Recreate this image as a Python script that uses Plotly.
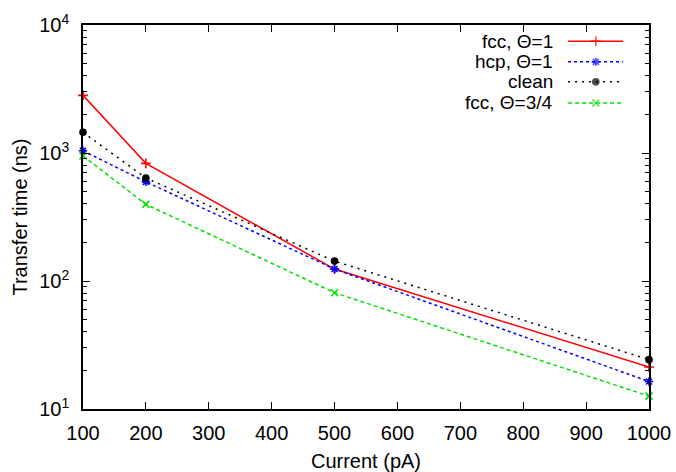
import plotly.graph_objects as go

# Current in pA
current = [100, 200, 500, 1000]

# Transfer times in ns
fcc_full = [2820, 830, 124, 21.3]
hcp_full = [1040, 595, 124, 16.4]
clean = [1450, 638, 143, 24.3]
fcc_three_quarter = [950, 397, 81, 12.6]

series_names = ["fcc, Θ=1", "hcp, Θ=1", "clean", "fcc, Θ=3/4"]
series_values = [fcc_full, hcp_full, clean, fcc_three_quarter]

y_tick_vals = [10, 100, 1000, 10000]
y_tick_text = ["10<sup>1</sup>", "10<sup>2</sup>", "10<sup>3</sup>", "10<sup>4</sup>"]

styles = [
    dict(color="#ff0000", dash="solid", width=1.5, symbol="cross-thin-open", size=7),
    dict(color="#0000ff", dash="dot", width=1.5, symbol="asterisk-open", size=7),
    dict(color="#000000", dash="2px,5px", width=1.5, symbol="circle", size=6),
    dict(color="#00e000", dash="4px,3px", width=1.5, symbol="x-thin-open", size=7),
]

FONT = "Liberation Sans, Arial, sans-serif"
FSIZE = 20

fig = go.Figure()

for name, vals, st in zip(series_names, series_values, styles):
    fig.add_trace(go.Scatter(
        x=current, y=vals, name=name, mode="lines+markers",
        line=dict(color=st["color"], dash=st["dash"], width=st["width"]),
        marker=dict(symbol=st["symbol"], size=st["size"], color=st["color"],
                    line=dict(color=st["color"], width=1.6)),
        showlegend=False, cliponaxis=False,
    ))

# Key: label text on the left, line sample with marker on the right
key_rows = [0.958, 0.904, 0.852, 0.797]
for name, st, ky in zip(series_names, styles, key_rows):
    fig.add_trace(go.Scatter(
        x=[0.857, 0.906, 0.954], y=[ky, ky, ky], xaxis="x2", yaxis="y2",
        mode="lines+markers",
        line=dict(color=st["color"], dash=st["dash"], width=st["width"]),
        marker=dict(symbol=st["symbol"], size=[0, st["size"], 0], color=st["color"],
                    line=dict(color=st["color"], width=1.6)),
        showlegend=False, hoverinfo="skip",
    ))
    fig.add_annotation(
        x=0.832, y=ky, xref="x2", yref="y2", text=name, showarrow=False,
        xanchor="right", yanchor="middle", height=19, valign="middle", borderpad=0,
        font=dict(family=FONT, size=19, color="#000000"),
    )

fig.update_layout(
    width=676, height=472,
    margin=dict(l=83, r=27, t=25, b=63),
    paper_bgcolor="white", plot_bgcolor="white",
    font=dict(family=FONT, size=FSIZE, color="#000000"),
    xaxis=dict(
        range=[100, 1000], dtick=100, tick0=100, automargin=False,
        ticks="inside", ticklen=7, tickwidth=1, tickcolor="#000000",
        showline=True, linecolor="#000000", linewidth=1.5, mirror="ticks",
        showgrid=False, zeroline=False, ticklabelstandoff=5,
        title=dict(text="Current (pA)", font=dict(size=FSIZE), standoff=12),
    ),
    yaxis=dict(
        type="log", range=[1, 4], automargin=False,
        tickvals=y_tick_vals, ticktext=y_tick_text,
        ticks="inside", ticklen=7, tickwidth=1, tickcolor="#000000",
        minor=dict(ticks="inside", ticklen=4, tickcolor="#000000", dtick="D1", showgrid=False),
        showline=True, linecolor="#000000", linewidth=1.5, mirror="ticks",
        showgrid=False, zeroline=False, ticklabelstandoff=8,
        title=dict(text="Transfer time (ns)", font=dict(size=FSIZE), standoff=6),
    ),
    xaxis2=dict(overlaying="x", range=[0, 1], visible=False, fixedrange=True),
    yaxis2=dict(overlaying="y", range=[0, 1], visible=False, fixedrange=True),
    showlegend=False,
)

fig.write_html("out.html")
